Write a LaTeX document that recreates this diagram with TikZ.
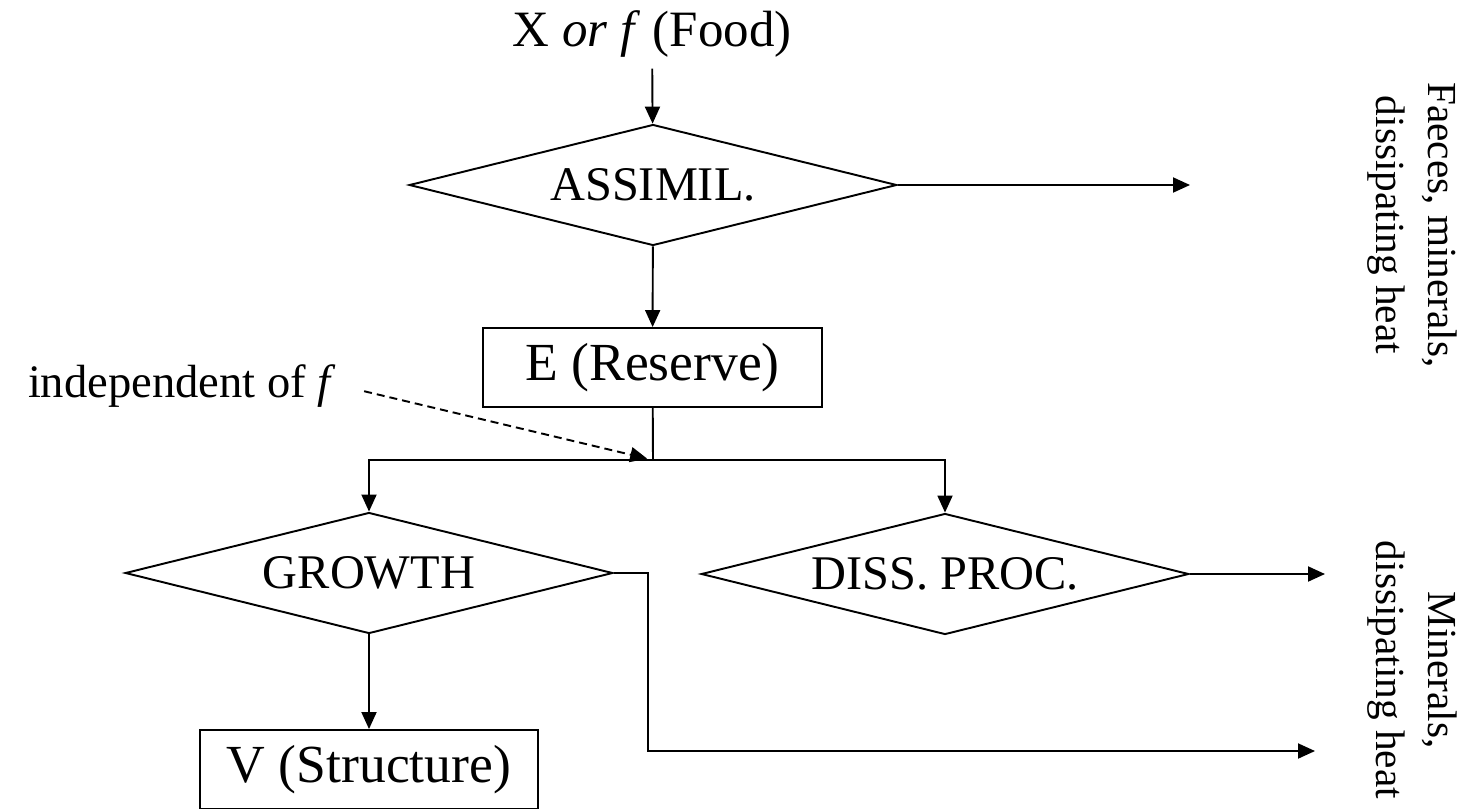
\documentclass[tikz,border=0pt]{standalone}
\usepackage{fontspec}
\setmainfont{Liberation Serif}
\usetikzlibrary{shapes.geometric,arrows.meta}

\begin{document}
\begin{tikzpicture}[line width=1.1pt, >={Triangle[length=0.34cm,width=0.3cm]},
	every node/.style={font=\fontsize{26.5}{30}\selectfont, inner sep=3pt},
	process/.style={draw, diamond, aspect=4, inner sep=0pt, minimum width=9.75cm, minimum height=2.42cm, font=\fontsize{27.5}{31}\selectfont},
	store/.style={draw, rectangle, minimum width=6.77cm, minimum height=1.58cm, font=\fontsize{30.5}{34}\selectfont},
	side/.style={rotate=-90, align=center, font=\fontsize{23.5}{29.5}\selectfont}]
		\useasboundingbox (0,0) rectangle (29.48,-16.16);
		
		\node[font=\fontsize{29}{33}\selectfont] at (13.04,-0.68) (food) {X \textit{or f} (Food)};
		\node[process] at (13.06,-3.7) (assimil) {ASSIMIL.};
		\node[store] at (13.05,-7.35) (reserve) {E (Reserve)};
		\node[process] at (7.38,-11.46) (growth) {GROWTH};
		\node[process] at (18.9,-11.48) (diss) {DISS. PROC.};
		\node[store] at (7.38,-15.39) (structure) {V (Structure)};
		\node at (3.64,-7.72) (indep) {independent of \textit{f}};
		\node[side] at (28.24,-4.5) (faeces) {Faeces, minerals,\\dissipating heat};
		\node[side] at (28.24,-13.4) (minerals) {Minerals,\\dissipating heat};
		
		\coordinate (split) at (13.06,-9.2);
		\coordinate (out1) at (23.8,-3.7);
		\coordinate (out2) at (26.5,-11.48);
		\coordinate (bend) at (12.96,-15.02);
		\coordinate (out3) at (26.3,-15.02);
		
		\draw[->, shorten <=0.1cm] (food) -- (assimil);
		\draw[->] (assimil) -- (reserve);
		\draw[->] (assimil.east) -- (out1);
		\draw (reserve) -- (split);
		\draw[->] (split) -| (growth.north);
		\draw[->] (split) -| (diss.north);
		\draw[->] (diss.east) -- (out2);
		\draw[->] (growth) -- (structure);
		\draw[->] (growth.east) -| (bend) -- (out3);
		\draw[->, dash pattern=on 0.16cm off 0.1cm, shorten <=0.45cm, shorten >=0.12cm] (indep.east) -- (split);
\end{tikzpicture}
\end{document}
